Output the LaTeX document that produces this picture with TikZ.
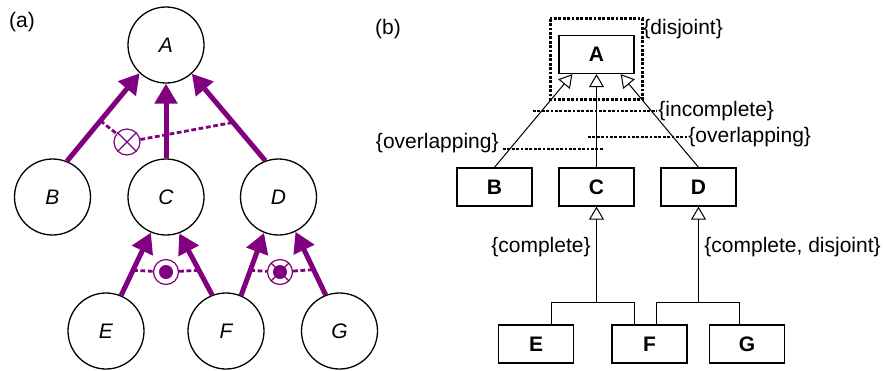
\documentclass[tikz,border=0pt]{standalone}
\usepackage{fontspec}
\setmainfont{Liberation Sans}
\usepackage{xcolor}
\usetikzlibrary{calc, arrows.meta}
\definecolor{umlpurple}{RGB}{128,0,128}

\begin{document}
\begin{tikzpicture}[x=0.5pt, y=-0.5pt, font=\fontsize{10.5}{12.6}\selectfont,
		cls/.style={circle, draw, line width=0.65pt, minimum size=38pt, inner sep=0pt, font=\fontsize{10.5}{12.6}\selectfont\itshape},
		isa/.style={umlpurple, line width=2.5pt, -{Triangle[length=10pt, width=11pt]}},
		constr/.style={umlpurple, line width=1.4pt, dash pattern=on 2.4pt off 1.3pt},
		csym/.style={circle, draw=umlpurple, fill=white, line width=0.6pt, inner sep=0pt},
		clsbox/.style={rectangle, draw, line width=0.65pt, minimum width=37.5pt, minimum height=19pt, inner sep=0pt, font=\fontsize{10.5}{12.6}\selectfont\bfseries},
		tree/.style={line width=0.5pt},
		gen/.style={tree, -{Triangle[open, length=6.5pt, width=7.5pt]}},
		dots/.style={line width=1.4pt, dash pattern=on 1.4pt off 0.8pt},
		lbl/.style={inner sep=0.5pt}]
	\useasboundingbox (0,0) rectangle (883,370);

	% (a)
	\begin{scope}
		\node (labela) at (22,22) {(a)};

		\node [cls] (A) at (166,45) {A};
		\node [cls] (B) at (52.5,197) {B};
		\node [cls] (C) at (166,197) {C};
		\node [cls] (D) at (278.5,197) {D};
		\node [cls] (E) at (106,331) {E};
		\node [cls] (F) at (226,331) {F};
		\node [cls] (G) at (339.5,331) {G};
	\end{scope}

	\begin{scope}
		\draw [isa] (B.68) -- (A.227) coordinate [pos=0.46] (ba);
		\draw [isa] (C.north) -- (A.south);
		\draw [isa] (D.110) -- (A.312) coordinate [pos=0.44] (da);

		\draw [isa] (E.67) -- (C.247) coordinate [pos=0.4] (ec);
		\draw [isa] (F.111) -- (C.290) coordinate [pos=0.4] (fc);
		\draw [isa] (F.67) -- (D.248) coordinate [pos=0.4] (fd);
		\draw [isa] (G.111) -- (D.296) coordinate [pos=0.4] (gd);
	\end{scope}

	\begin{scope}
		\node [csym, minimum size=13pt] (ovlA) at (127,142) {};
		\draw [constr] (ba) -- (ovlA) -- (da);
		\draw [umlpurple, line width=0.6pt] (ovlA.45) -- (ovlA.225) (ovlA.135) -- (ovlA.315);

		\node [csym, minimum size=12.5pt] (cmpC) at (166,272) {};
		\draw [constr] (ec) -- (cmpC) -- (fc);
		\fill [umlpurple] (cmpC) circle (7);

		\node [csym, minimum size=12.5pt] (cmpD) at (280,272) {};
		\draw [constr] (fd) -- (cmpD) -- (gd);
		\draw [umlpurple, line width=0.6pt] (cmpD.45) -- (cmpD.225) (cmpD.135) -- (cmpD.315);
		\fill [umlpurple] (cmpD) circle (7);
	\end{scope}

	% (b)
	\begin{scope}
		\node (labelb) at (388,29) {(b)};

		\node [clsbox] (bA) at (596.5,54.5) {A};
		\node [clsbox] (bB) at (494.5,187) {B};
		\node [clsbox] (bC) at (596.5,187) {C};
		\node [clsbox] (bD) at (698.5,187) {D};
		\node [clsbox] (bE) at (536,344) {E};
		\node [clsbox] (bF) at (649.5,344) {F};
		\node [clsbox] (bG) at (747,344) {G};
	\end{scope}

	\begin{scope}
		\draw [gen] (bB.north) -- ($ (bA.south west) + (14,0) $);
		\draw [gen] (bC) -- (bA);
		\draw [gen] (bD.north) -- ($ (bA.south east) + (-14,0) $);

		\coordinate (cjoin) at (596.5,302);
		\draw [gen] ($ (bE.north) + (15,0) $) |- (cjoin) -- (bC);
		\draw [tree] ($ (bF.north) + (-15.5,0) $) |- (cjoin);

		\coordinate (djoin) at (698.5,302);
		\draw [gen] ($ (bF.north) + (6.5,0) $) |- (djoin) -- (bD);
		\draw [tree] ($ (bG.north) + (-8,0) $) |- (djoin);
	\end{scope}

	\begin{scope}
		\draw [dots] ($ (bA.north west) + (-8,-16) $) rectangle ($ (bA.south east) + (8,25) $);
		\node [lbl, anchor=west] (disj) at (642,29) {\{disjoint\}};

		\node [lbl, anchor=west] (incmpl) at (657,111) {\{incomplete\}};
		\coordinate (incmplend) at (533,111);
		\draw [dots] (incmplend) -- (incmpl.west);

		\node [lbl, anchor=west] (ovlpr) at (687,137) {\{overlapping\}};
		\coordinate (ovlprend) at (588,137);
		\draw [dots] (ovlprend) -- (ovlpr.west);

		\node [lbl, anchor=base east] (ovlpl) at (500,148) {\{overlapping\}};
		\coordinate (ovlplend) at (604,149);
		\draw [dots] ($ (ovlpl.base east) + (3,1) $) -- (ovlplend);

		\node [lbl, anchor=east] (cmpl) at (592,247) {\{complete\}};
		\node [lbl, anchor=west] (cmpldj) at (703,247) {\{complete, disjoint\}};
	\end{scope}
\end{tikzpicture}
\end{document}
